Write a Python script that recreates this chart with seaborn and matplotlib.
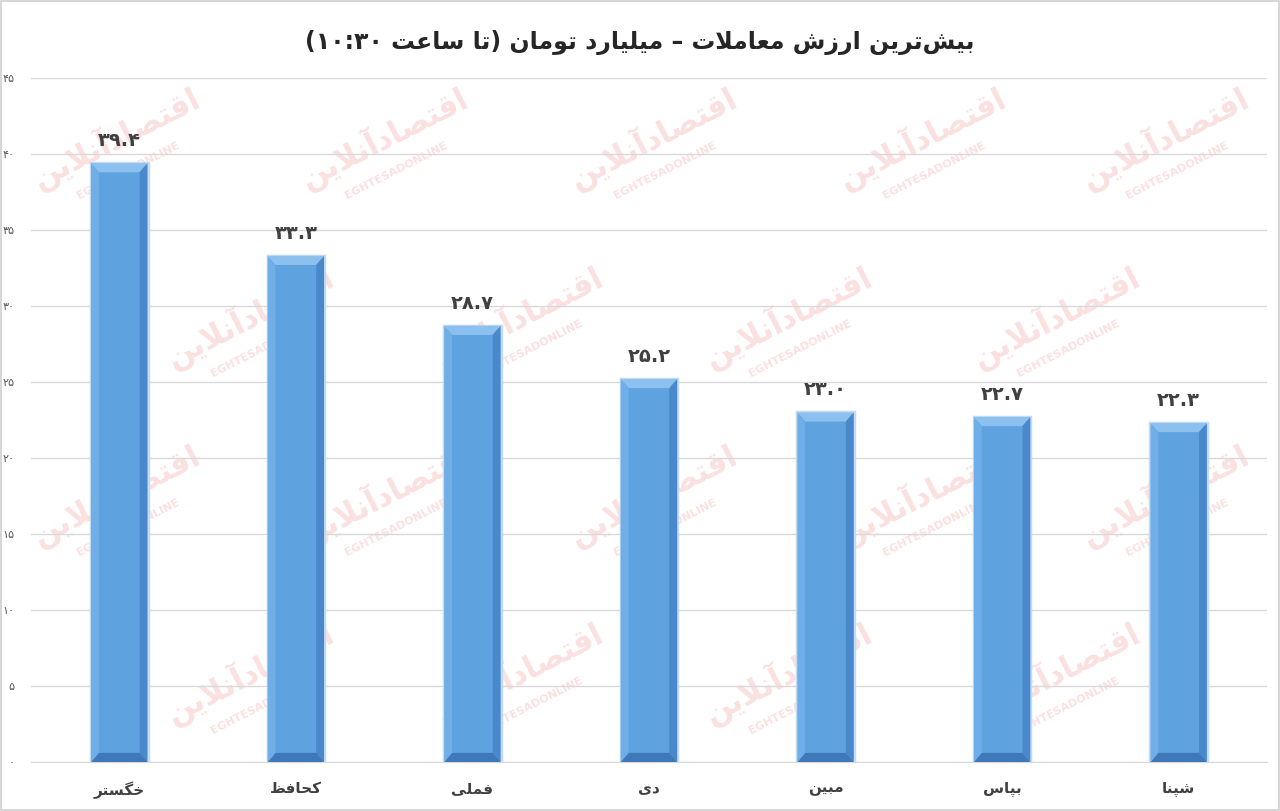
import re
import matplotlib
matplotlib.use("Agg")
import matplotlib.pyplot as plt
from matplotlib.patches import Polygon
import seaborn as sns
import pandas as pd

# ---- data ----
symbols = ["خگستر", "کحافظ", "فملی", "دی", "مبین", "بپاس", "شپنا"]
values = [39.4, 33.3, 28.7, 25.2, 23.0, 22.7, 22.3]
y_ticks = [0, 5, 10, 15, 20, 25, 30, 35, 40, 45]
title = "بیش\u200cترین ارزش معاملات – میلیارد تومان (تا ساعت ۱۰:۳۰)"
watermark = "اقتصادآنلاین"

# ---- minimal Persian shaping (no arabic_reshaper available) ----
FORMS = {
    "ا": (0xFE8D, 0xFE8E), "آ": (0xFE81, 0xFE82), "د": (0xFEA9, 0xFEAA),
    "ر": (0xFEAD, 0xFEAE), "ز": (0xFEAF, 0xFEB0), "و": (0xFEED, 0xFEEE),
    "ب": (0xFE8F, 0xFE90, 0xFE91, 0xFE92), "ت": (0xFE95, 0xFE96, 0xFE97, 0xFE98),
    "ح": (0xFEA1, 0xFEA2, 0xFEA3, 0xFEA4), "خ": (0xFEA5, 0xFEA6, 0xFEA7, 0xFEA8),
    "س": (0xFEB1, 0xFEB2, 0xFEB3, 0xFEB4), "ش": (0xFEB5, 0xFEB6, 0xFEB7, 0xFEB8),
    "ص": (0xFEB9, 0xFEBA, 0xFEBB, 0xFEBC), "ظ": (0xFEC5, 0xFEC6, 0xFEC7, 0xFEC8),
    "ع": (0xFEC9, 0xFECA, 0xFECB, 0xFECC), "ف": (0xFED1, 0xFED2, 0xFED3, 0xFED4),
    "ق": (0xFED5, 0xFED6, 0xFED7, 0xFED8), "ل": (0xFEDD, 0xFEDE, 0xFEDF, 0xFEE0),
    "م": (0xFEE1, 0xFEE2, 0xFEE3, 0xFEE4), "ن": (0xFEE5, 0xFEE6, 0xFEE7, 0xFEE8),
    "پ": (0xFB56, 0xFB57, 0xFB58, 0xFB59), "ک": (0xFB8E, 0xFB8F, 0xFB90, 0xFB91),
    "گ": (0xFB92, 0xFB93, 0xFB94, 0xFB95), "ی": (0xFBFC, 0xFBFD, 0xFBFE, 0xFBFF),
}
LAM_ALEF = {"ا": (0xFEFB, 0xFEFC), "آ": (0xFEF5, 0xFEF6)}
NUM_RE = r"[0-9۰-۹]+(?:[.:][0-9۰-۹]+)*"


def shape(s):
    out = []
    i = 0
    while i < len(s):
        c = s[i]
        if c not in FORMS:
            out.append(c)
            i += 1
            continue
        prev = s[i - 1] if i > 0 else ""
        joins_prev = prev in FORMS and len(FORMS[prev]) == 4
        if c == "ل" and i + 1 < len(s) and s[i + 1] in LAM_ALEF:
            lig = LAM_ALEF[s[i + 1]]
            out.append(chr(lig[1] if joins_prev else lig[0]))
            i += 2
            continue
        nxt = s[i + 1] if i + 1 < len(s) else ""
        f = FORMS[c]
        joins_next = len(f) == 4 and nxt in FORMS
        if joins_prev and joins_next:
            out.append(chr(f[3]))
        elif joins_prev:
            out.append(chr(f[1]))
        elif joins_next:
            out.append(chr(f[2]))
        else:
            out.append(chr(f[0]))
        i += 1
    return "".join(out).replace("\u200c", "")


def fa(s):
    # shape + visual right-to-left order, numbers stay left-to-right
    mirror = str.maketrans("()", ")(")
    toks = re.split("(" + NUM_RE + ")", shape(s))
    res = []
    for t in reversed(toks):
        if t and re.fullmatch(NUM_RE, t):
            res.append(t)
        else:
            res.append(t[::-1].translate(mirror))
    return "".join(res)


def fa_num(v, fmt="{:.1f}"):
    return fmt.format(v).translate(str.maketrans("0123456789", "۰۱۲۳۴۵۶۷۸۹"))


# ---- plot ----
sns.set_style("white")
plt.rcParams["font.family"] = ["DejaVu Sans"]

df = pd.DataFrame({"symbol": symbols, "value": values})

fig = plt.figure(figsize=(12.8, 8.11), dpi=100)
fig.patch.set_facecolor("white")
ax = fig.add_axes([0.0242, 0.0604, 0.9656, 0.8434])
ax.patch.set_alpha(0)

# faint watermark behind everything, kept inside the image
wm_even = [0.09, 0.30, 0.51, 0.72, 0.91]
wm_odd = [0.195, 0.405, 0.615, 0.825]
wm_y = [0.83, 0.61, 0.39, 0.17]
for row, yy in enumerate(wm_y):
    for x0 in (wm_odd if row % 2 else wm_even):
        fig.text(x0, yy, fa(watermark), fontsize=22, fontweight="bold",
                 color="#FBE0E0", rotation=27, ha="center", va="center", zorder=-2)
        fig.text(x0 + 0.01, yy - 0.04, "EGHTESADONLINE", fontsize=8,
                 fontweight="bold", color="#FBE0E0", rotation=27,
                 ha="center", va="center", zorder=-2)

sns.barplot(data=df, x="symbol", y="value", color="#5FA2E0", width=0.32,
            edgecolor="#C3DCF4", linewidth=2.5, saturation=1, ax=ax, zorder=3)

# bevel effect on each bar
for p in ax.patches:
    x, y0 = p.get_x(), p.get_y()
    w, h = p.get_width(), p.get_height()
    bx, by = w * 0.14, 0.6
    x1, y1 = x + w, y0 + h
    ax.add_patch(Polygon([(x, y1), (x1, y1), (x1 - bx, y1 - by), (x + bx, y1 - by)],
                         closed=True, color="#8CC0EE", lw=0, zorder=4))
    ax.add_patch(Polygon([(x1, y1), (x1, y0), (x1 - bx, y0 + by), (x1 - bx, y1 - by)],
                         closed=True, color="#4A88CC", lw=0, zorder=4))
    ax.add_patch(Polygon([(x, y0), (x1, y0), (x1 - bx, y0 + by), (x + bx, y0 + by)],
                         closed=True, color="#3F78B8", lw=0, zorder=4))
    ax.add_patch(Polygon([(x, y1), (x, y0), (x + bx, y0 + by), (x + bx, y1 - by)],
                         closed=True, color="#6FAEE6", lw=0, zorder=4))

for i, v in enumerate(values):
    ax.text(i, v + 0.85, fa_num(v), ha="center", va="bottom", fontsize=14,
            fontweight="bold", color="#404040", zorder=5)

ax.set_ylim(0, 45)
ax.set_xlim(-0.5, len(symbols) - 0.5)
ax.set_yticks(y_ticks)
ax.set_yticklabels([fa_num(t, "{:d}") for t in y_ticks], fontsize=8, color="#595959")
ax.set_xticks(range(len(symbols)))
ax.set_xticklabels([fa(s) for s in symbols], fontsize=11, fontweight="bold", color="#404040")
ax.tick_params(axis="y", length=0, pad=12)
ax.tick_params(axis="x", length=0, pad=14)
ax.set_xlabel("")
ax.set_ylabel("")
ax.grid(axis="y", color="#D9D9D9", linewidth=1, zorder=0)
ax.set_axisbelow(True)
for s in ["top", "right", "left"]:
    ax.spines[s].set_visible(False)
ax.spines["bottom"].set_color("#D9D9D9")

fig.text(0.5, 0.948, fa(title), ha="center", va="center", fontsize=17,
         fontweight="bold", color="#262626")

# thin frame around the image
fig.patches.append(plt.Rectangle((0.001, 0.001), 0.998, 0.998, transform=fig.transFigure,
                                 fill=False, edgecolor="#D0D0D0", linewidth=1.2))

fig.savefig("out.png", dpi=100)
